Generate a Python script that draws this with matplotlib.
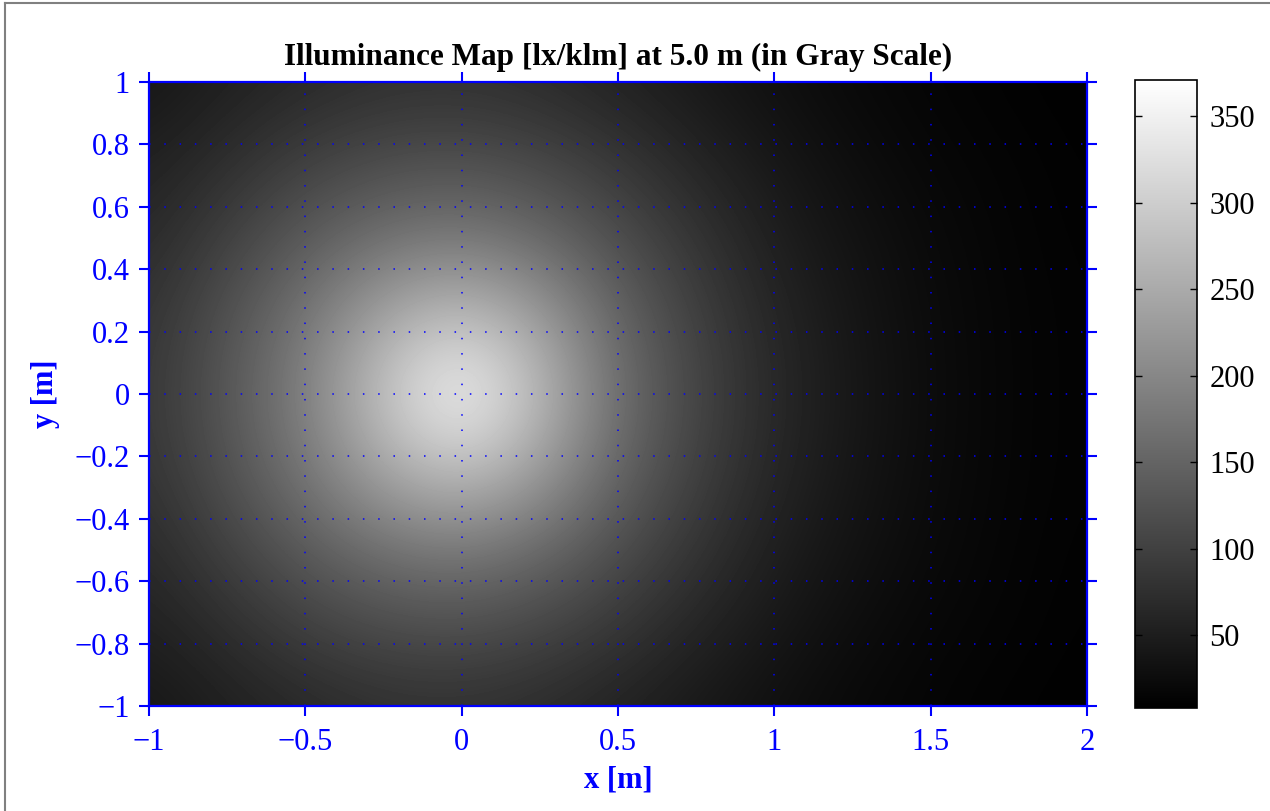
import numpy as np
import matplotlib
matplotlib.use("Agg")
import matplotlib.pyplot as plt
from matplotlib.lines import Line2D

plt.rcParams['font.family'] = ['Liberation Serif', 'DejaVu Serif']

# sample positions of the illuminance grid [m]
x_pos = [-1.0, -0.75, -0.5, -0.25, 0.0, 0.25, 0.5, 0.75, 1.0, 1.25, 1.5, 1.75, 2.0]
y_pos = [1.0, 0.75, 0.5, 0.25, 0.0, -0.25, -0.5, -0.75, -1.0]

# illuminance [lx/klm], rows from y=1 down to y=-1
row_y100 = [39, 52, 64, 74, 76, 69, 55, 42, 30, 20, 15, 11, 9]
row_y075 = [53, 73, 99, 115, 120, 108, 86, 60, 41, 27, 18, 14, 10]
row_y050 = [66, 100, 136, 168, 180, 157, 118, 82, 51, 34, 22, 15, 11]
row_y025 = [79, 123, 175, 245, 282, 232, 150, 99, 61, 39, 24, 16, 12]
row_y000 = [84, 132, 192, 290, 370, 275, 165, 106, 65, 41, 25, 16, 12]
row_ym025 = [79, 123, 175, 245, 282, 232, 150, 99, 61, 39, 24, 16, 12]
row_ym050 = [66, 100, 136, 168, 180, 157, 118, 82, 51, 34, 22, 15, 11]
row_ym075 = [53, 73, 99, 115, 120, 108, 86, 60, 41, 27, 18, 14, 10]
row_ym100 = [39, 52, 64, 74, 76, 69, 55, 42, 30, 20, 15, 11, 9]

E = np.array([row_y100, row_y075, row_y050, row_y025, row_y000,
              row_ym025, row_ym050, row_ym075, row_ym100], dtype=float)

x_ticks = [-1, -0.5, 0, 0.5, 1, 1.5, 2]
y_ticks = [-1, -0.8, -0.6, -0.4, -0.2, 0, 0.2, 0.4, 0.6, 0.8, 1]
cb_ticks = [50, 100, 150, 200, 250, 300, 350]
e_min, e_max = 8, 371

blue = '#0000ff'

fig = plt.figure(figsize=(12.7, 8.11), dpi=100)
ax = fig.add_axes([0.1173, 0.1295, 0.7386, 0.7694])
cax = fig.add_axes([0.8937, 0.127, 0.0488, 0.7744])

dx = (x_pos[1] - x_pos[0]) / 2
dy = (y_pos[0] - y_pos[1]) / 2
im = ax.imshow(E, cmap='gray', vmin=e_min, vmax=e_max, interpolation='bicubic',
               extent=[x_pos[0] - dx, x_pos[-1] + dx, y_pos[-1] - dy, y_pos[0] + dy],
               origin='upper', aspect='auto')
ax.set_xlim(-1, 2)
ax.set_ylim(-1, 1)

ax.set_xticks(x_ticks)
ax.set_yticks(y_ticks)
ax.set_xticklabels([f"{t:g}".replace('-', '\u2212') for t in x_ticks])
ax.set_yticklabels([f"{t:g}".replace('-', '\u2212') for t in y_ticks])
ax.tick_params(which='both', direction='out', length=7, width=1.5, colors=blue,
               labelsize=22, top=True, right=True)
ax.tick_params(axis='x', pad=9)
ax.tick_params(axis='y', pad=7)
for s in ax.spines.values():
    s.set_color(blue)
    s.set_linewidth(1.6)
ax.grid(True, color=blue, linestyle=(0, (1, 9)), linewidth=1.1)

ax.set_xlabel('x [m]', color=blue, fontsize=22, fontweight='bold', labelpad=6)
ax.set_ylabel('y [m]', color=blue, fontsize=22, fontweight='bold', labelpad=10)
ax.set_title('Illuminance Map [lx/klm] at 5.0 m (in Gray Scale)',
             fontsize=22.5, fontweight='bold', pad=12)

cb = fig.colorbar(im, cax=cax, ticks=cb_ticks)
cb.outline.set_linewidth(1.2)
cax.tick_params(direction='in', length=5, width=1, labelsize=22, left=True, right=True,
                pad=9)

# frame of the figure window (left and top edges visible)
fig.add_artist(Line2D([5 / 1270, 5 / 1270], [0, 1 - 3 / 811], transform=fig.transFigure,
                      color='#808080', linewidth=1.5))
fig.add_artist(Line2D([5 / 1270, 1], [1 - 3 / 811, 1 - 3 / 811], transform=fig.transFigure,
                      color='#808080', linewidth=1.5))

fig.savefig('out.png', dpi=100)
